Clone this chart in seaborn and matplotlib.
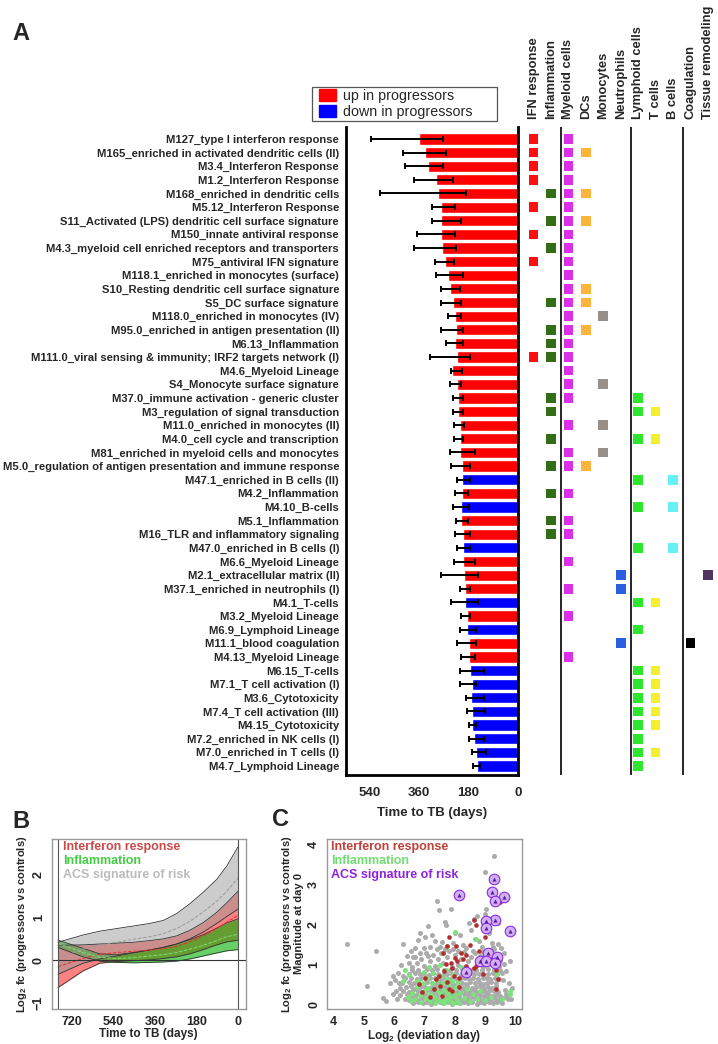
import matplotlib
matplotlib.use("Agg")
import matplotlib.pyplot as plt
from matplotlib.patches import Patch, Rectangle
from matplotlib.transforms import blended_transform_factory
import numpy as np
import pandas as pd
import seaborn as sns

# ---------------- panel A data ----------------
modules = [
    "M127_type I interferon response", "M165_enriched in activated dendritic cells (II)",
    "M3.4_Interferon Response", "M1.2_Interferon Response", "M168_enriched in dendritic cells",
    "M5.12_Interferon Response", "S11_Activated (LPS) dendritic cell surface signature",
    "M150_innate antiviral response", "M4.3_myeloid cell enriched receptors and transporters",
    "M75_antiviral IFN signature", "M118.1_enriched in monocytes (surface)",
    "S10_Resting dendritic cell surface signature", "S5_DC surface signature",
    "M118.0_enriched in monocytes (IV)", "M95.0_enriched in antigen presentation (II)",
    "M6.13_Inflammation", "M111.0_viral sensing & immunity; IRF2 targets network (I)",
    "M4.6_Myeloid Lineage", "S4_Monocyte surface signature",
    "M37.0_immune activation - generic cluster", "M3_regulation of signal transduction",
    "M11.0_enriched in monocytes (II)", "M4.0_cell cycle and transcription",
    "M81_enriched in myeloid cells and monocytes",
    "M5.0_regulation of antigen presentation and immune response",
    "M47.1_enriched in B cells (II)", "M4.2_Inflammation", "M4.10_B-cells", "M5.1_Inflammation",
    "M16_TLR and inflammatory signaling", "M47.0_enriched in B cells (I)", "M6.6_Myeloid Lineage",
    "M2.1_extracellular matrix (II)", "M37.1_enriched in neutrophils (I)", "M4.1_T-cells",
    "M3.2_Myeloid Lineage", "M6.9_Lymphoid Lineage", "M11.1_blood coagulation",
    "M4.13_Myeloid Lineage", "M6.15_T-cells", "M7.1_T cell activation (I)", "M3.6_Cytotoxicity",
    "M7.4_T cell activation (III)", "M4.15_Cytotoxicity", "M7.2_enriched in NK cells (I)",
    "M7.0_enriched in T cells (I)", "M4.7_Lymphoid Lineage",
]
bar_days = [361, 339, 327, 300, 292, 281, 281, 280, 277, 265, 256, 247, 236, 229, 226, 229,
            223, 240, 221, 219, 219, 213, 213, 210, 205, 205, 203, 207, 207, 202, 201, 199,
            195, 192, 192, 186, 185, 179, 179, 173, 166, 170, 166, 166, 160, 152, 148]
err_far = [534, 417, 411, 380, 501, 314, 314, 367, 380, 302, 300, 279, 279, 255, 280, 263,
           321, 245, 248, 236, 238, 234, 234, 248, 244, 222, 228, 237, 224, 228, 222, 234,
           281, 211, 244, 206, 213, 223, 206, 211, 211, 191, 185, 179, 179, 169, 164]
err_near = [272, 263, 272, 238, 189, 229, 207, 229, 226, 232, 201, 213, 206, 206, 199, 199,
            176, 203, 207, 199, 199, 196, 199, 155, 174, 173, 182, 179, 182, 173, 174, 158,
            145, 174, 145, 174, 152, 154, 158, 125, 152, 125, 121, 152, 125, 118, 137]
direction = ["up"] * 25 + ["down", "up", "down", "up", "up", "down", "up", "up", "up", "down",
                           "up", "down", "up", "up"] + ["down"] * 8

categories = ["IFN response", "Inflammation", "Myeloid cells", "DCs", "Monocytes", "Neutrophils",
              "Lymphoid cells", "T cells", "B cells", "Coagulation", "Tissue remodeling"]
category_colors = ["#FF1010", "#336E16", "#D930E8", "#FBB43C", "#989088", "#2A5FE0",
                   "#2EE62E", "#F4F030", "#66F2F2", "#000000", "#4E3660"]
module_categories = [
    [0, 2], [0, 2, 3], [0, 2], [0, 2], [1, 2, 3], [0, 2], [1, 2, 3], [0, 2], [1, 2], [0, 2],
    [2], [2, 3], [1, 2, 3], [2, 4], [1, 2, 3], [1, 2], [0, 1, 2], [2], [2, 4], [1, 2, 6],
    [1, 6, 7], [2, 4], [1, 6, 7], [2, 4], [1, 2, 3], [6, 8], [1, 2], [6, 8], [1, 2], [1, 2],
    [6, 8], [2], [5, 10], [2, 5], [6, 7], [2], [6], [5, 9], [2], [6, 7], [6, 7], [6, 7],
    [6, 7], [6, 7], [6], [6, 7], [6],
]

# ---------------- panel B data ----------------
days_b = [778, 670, 598, 526, 454, 382, 324, 266, 209, 151, 93, 50, 0]
acs_upper = [0.42, 0.59, 0.68, 0.74, 0.80, 0.86, 0.93, 1.09, 1.32, 1.59, 1.89, 2.20, 2.66]
acs_mid = [0.05, 0.26, 0.36, 0.42, 0.49, 0.55, 0.62, 0.74, 0.91, 1.13, 1.38, 1.61, 1.93]
acs_lower = [-0.33, -0.07, 0.03, 0.10, 0.17, 0.24, 0.30, 0.38, 0.50, 0.66, 0.86, 1.02, 1.20]
ifn_upper = [0.35, 0.36, 0.38, 0.40, 0.42, 0.46, 0.50, 0.57, 0.70, 0.88, 1.12, 1.34, 1.62]
ifn_mid = [-0.15, 0.04, 0.14, 0.18, 0.21, 0.24, 0.27, 0.33, 0.43, 0.57, 0.74, 0.89, 1.05]
ifn_lower = [-0.64, -0.25, -0.07, -0.03, -0.01, 0.01, 0.04, 0.08, 0.15, 0.25, 0.36, 0.43, 0.47]
inf_upper = [0.47, 0.28, 0.15, 0.13, 0.18, 0.24, 0.30, 0.38, 0.48, 0.60, 0.75, 0.87, 0.97]
inf_mid = [0.39, 0.18, 0.07, 0.04, 0.06, 0.10, 0.13, 0.18, 0.26, 0.35, 0.46, 0.55, 0.61]
inf_lower = [0.30, 0.08, -0.02, -0.05, -0.06, -0.05, -0.04, -0.02, 0.03, 0.10, 0.17, 0.22, 0.25]

# ---------------- panel C data ----------------
gray_pts = [
    (4.45, 1.52), (5.10, 0.47), (5.40, 1.33), (5.65, 0.18), (5.73, 0.10), (5.85, 0.55), (5.95, 0.72),
    (6.05, 0.35), (6.15, 0.55), (6.31, 1.51), (6.42, 1.21), (6.55, 1.35), (6.70, 1.20), (6.80, 1.62),
    (6.87, 1.78), (7.03, 1.70), (7.12, 1.97), (7.18, 1.45), (7.26, 1.74), (7.42, 2.60), (7.48, 2.37),
    (7.58, 1.56), (7.67, 2.07), (7.70, 2.00), (7.89, 2.38), (8.02, 1.80), (8.16, 1.74), (8.26, 1.50),
    (8.48, 2.03), (8.53, 1.87), (8.64, 2.15), (8.68, 1.64), (8.73, 2.22), (9.00, 3.32), (9.00, 2.27),
    (9.03, 2.40), (9.29, 3.71), (9.44, 2.05), (9.53, 1.42), (9.81, 1.09), (9.22, 1.55), (9.12, 1.80),
    (9.62, 1.30), (8.90, 1.45), (8.80, 1.60), (9.70, 0.85), (9.78, 0.55),
    (5.95, 0.28), (6.02, 0.62), (6.10, 0.15), (6.12, 0.80), (6.18, 0.42), (6.22, 1.00), (6.28, 0.72),
    (9.60, 0.62), (9.65, 0.38), (9.72, 0.20), (9.55, 0.80), (9.62, 1.02), (9.85, 0.15), (9.88, 0.42),
    (6.48, 1.05), (6.62, 1.18), (6.85, 1.30), (6.98, 1.42), (7.12, 1.22), (7.40, 1.38), (7.52, 1.45),
    (7.68, 1.38), (7.95, 1.40), (8.12, 1.35), (8.38, 1.42), (8.60, 1.35), (8.68, 1.28), (8.95, 1.32),
    (9.25, 1.45), (9.42, 1.52), (7.95, 1.55), (7.35, 1.60), (6.68, 1.42),
    (6.60, 0.95), (6.75, 1.05), (6.90, 1.15), (7.00, 0.97), (7.05, 1.30), (7.20, 1.10), (7.30, 1.25),
    (7.35, 0.98), (7.45, 1.15), (7.55, 1.30), (7.62, 1.05), (7.75, 1.20), (7.80, 1.35), (7.90, 0.95),
    (8.00, 1.25), (8.10, 1.00), (8.20, 1.15), (8.30, 1.32), (8.35, 0.95), (8.45, 1.10), (8.55, 1.20),
    (8.60, 0.90), (8.75, 1.05), (8.85, 1.22), (8.95, 0.95), (9.05, 1.15), (9.15, 1.30), (9.20, 1.02),
    (9.30, 1.38), (9.40, 1.25), (9.45, 0.96), (9.50, 1.10),
    (6.62, 0.05), (6.78, 0.08), (6.95, 0.04), (7.08, 0.07), (7.22, 0.03), (7.35, 0.06), (7.50, 0.08),
    (7.63, 0.04), (7.77, 0.06), (7.90, 0.03), (8.05, 0.07), (8.18, 0.05), (8.30, 0.08), (8.45, 0.04),
    (8.58, 0.06), (8.72, 0.03), (8.85, 0.07), (8.98, 0.05), (9.12, 0.08), (9.25, 0.04), (9.40, 0.06),
    (9.55, 0.05),
    (6.35, 0.15), (6.50, 0.12), (6.68, 0.16), (6.82, 0.13), (6.97, 0.17), (7.12, 0.14), (7.27, 0.12),
    (7.40, 0.16), (7.55, 0.13), (7.70, 0.17), (7.83, 0.14), (7.97, 0.12), (8.12, 0.16), (8.25, 0.13),
    (8.40, 0.15), (8.52, 0.12), (8.66, 0.17), (8.80, 0.14), (8.93, 0.12), (9.05, 0.16), (9.18, 0.13),
    (9.32, 0.15), (9.46, 0.12), (9.60, 0.16), (9.75, 0.14),
    (6.20, 0.24), (6.42, 0.26), (6.58, 0.22), (6.72, 0.25), (6.88, 0.23), (7.02, 0.27), (7.17, 0.24),
    (7.30, 0.22), (7.46, 0.26), (7.60, 0.24), (7.74, 0.27), (7.88, 0.23), (8.02, 0.25), (8.15, 0.22),
    (8.30, 0.26), (8.43, 0.24), (8.57, 0.22), (8.70, 0.27), (8.84, 0.25), (8.97, 0.23), (9.10, 0.26),
    (9.24, 0.22), (9.37, 0.25), (9.50, 0.23), (9.68, 0.26),
    (6.30, 0.35), (6.48, 0.33), (6.63, 0.36), (6.78, 0.34), (6.92, 0.32), (7.07, 0.36), (7.22, 0.34),
    (7.36, 0.33), (7.50, 0.37), (7.65, 0.34), (7.80, 0.32), (7.94, 0.35), (8.08, 0.33), (8.22, 0.36),
    (8.36, 0.34), (8.50, 0.32), (8.63, 0.36), (8.77, 0.33), (8.90, 0.35), (9.03, 0.32), (9.16, 0.36),
    (9.30, 0.34), (9.43, 0.33),
    (6.40, 0.44), (6.56, 0.46), (6.72, 0.43), (6.86, 0.45), (7.00, 0.47), (7.15, 0.43), (7.30, 0.45),
    (7.43, 0.42), (7.58, 0.46), (7.72, 0.44), (7.87, 0.43), (8.00, 0.47), (8.14, 0.44), (8.28, 0.42),
    (8.42, 0.46), (8.56, 0.43), (8.70, 0.45), (8.83, 0.47), (8.96, 0.43), (9.10, 0.45), (9.22, 0.42),
    (9.36, 0.46),
    (6.25, 0.55), (6.50, 0.57), (6.65, 0.54), (6.80, 0.56), (6.95, 0.53), (7.10, 0.57), (7.25, 0.55),
    (7.38, 0.53), (7.53, 0.57), (7.67, 0.54), (7.82, 0.56), (7.96, 0.53), (8.10, 0.57), (8.24, 0.55),
    (8.38, 0.53), (8.52, 0.56), (8.66, 0.54), (8.80, 0.57), (8.93, 0.53), (9.08, 0.55), (9.20, 0.57),
    (9.35, 0.54),
    (6.35, 0.66), (6.55, 0.68), (6.75, 0.65), (6.90, 0.67), (7.05, 0.64), (7.20, 0.68), (7.34, 0.66),
    (7.48, 0.64), (7.62, 0.67), (7.78, 0.65), (7.92, 0.68), (8.07, 0.64), (8.20, 0.66), (8.34, 0.68),
    (8.48, 0.65), (8.62, 0.67), (8.78, 0.64), (8.92, 0.66), (9.05, 0.68), (9.18, 0.65), (9.32, 0.67),
    (9.45, 0.64),
    (6.50, 0.77), (6.70, 0.79), (6.85, 0.76), (7.00, 0.78), (7.16, 0.75), (7.30, 0.79), (7.45, 0.77),
    (7.60, 0.75), (7.75, 0.78), (7.90, 0.76), (8.05, 0.79), (8.20, 0.75), (8.36, 0.77), (8.50, 0.79),
    (8.65, 0.76), (8.80, 0.78), (8.95, 0.75), (9.10, 0.77), (9.25, 0.79), (9.40, 0.76),
    (6.60, 0.88), (6.80, 0.86), (7.10, 0.89), (7.25, 0.87), (7.40, 0.90), (7.65, 0.86), (7.85, 0.88),
    (8.05, 0.87), (8.25, 0.89), (8.45, 0.86), (8.70, 0.88), (8.90, 0.87), (9.10, 0.89), (9.30, 0.86),
    (9.50, 0.88),
]
green_pts = [
    (6.45, 0.20), (6.55, 0.10), (6.60, 0.30), (6.70, 0.15), (6.75, 0.45), (6.85, 0.25), (6.90, 0.08),
    (6.95, 0.55), (7.00, 0.35), (7.05, 0.18), (7.10, 0.68), (7.12, 0.42), (7.18, 0.10), (7.20, 0.28),
    (7.25, 0.55), (7.30, 0.80), (7.32, 0.20), (7.38, 0.38), (7.40, 0.62), (7.45, 0.12), (7.48, 0.47),
    (7.52, 0.30), (7.55, 0.72), (7.58, 0.08), (7.60, 0.22), (7.63, 0.55), (7.66, 0.38), (7.70, 0.88),
    (7.72, 0.15), (7.75, 0.65), (7.78, 0.30), (7.80, 0.48), (7.83, 0.10), (7.86, 0.20), (7.90, 0.60),
    (7.93, 0.35), (7.96, 0.75), (8.00, 0.25), (8.05, 0.45), (8.08, 0.12), (8.12, 0.58), (8.18, 0.30),
    (8.22, 0.95), (8.30, 0.18), (8.40, 0.40), (8.50, 0.10), (8.60, 0.28), (8.72, 0.15), (8.85, 0.35),
    (9.00, 0.12), (9.20, 0.20), (9.40, 0.78), (9.55, 0.15), (9.81, 0.35), (9.81, 0.28), (6.37, 0.87),
    (7.62, 1.29), (7.73, 1.47), (8.00, 1.82), (8.70, 1.64), (9.37, 2.03), (6.30, 0.60), (6.50, 0.75),
    (7.15, 0.95), (7.50, 1.00), (7.35, 0.05), (7.65, 0.05), (7.95, 0.05), (8.15, 0.05), (6.80, 0.60),
    (7.00, 0.82),
]
red_pts = [
    (9.48, 2.56), (8.64, 2.11), (8.70, 1.99), (9.00, 1.70), (8.81, 1.33), (7.81, 1.70), (8.37, 1.25),
    (8.09, 1.09), (8.01, 1.17), (7.87, 1.05), (8.26, 1.13), (7.76, 1.46), (8.03, 1.46), (8.79, 1.17),
    (8.64, 0.93), (8.70, 0.96), (9.28, 1.13), (9.37, 0.88), (9.31, 1.17), (8.37, 0.97), (8.42, 0.88),
    (7.70, 1.01), (7.64, 0.84), (7.92, 0.93), (7.98, 0.72), (8.14, 0.68), (7.48, 0.72), (7.37, 0.64),
    (7.53, 0.47), (7.76, 0.56), (7.31, 0.39), (6.81, 0.52), (6.92, 0.31), (7.81, 0.39), (7.59, 0.23),
    (7.92, 0.35), (9.42, 0.64), (9.37, 0.39), (8.92, 0.76), (8.20, 1.29), (7.03, 0.68), (7.60, 1.30),
    (8.50, 1.50), (7.20, 0.20), (8.15, 0.45),
]
acs_pts = [
    (9.31, 3.13), (9.23, 2.82), (9.63, 2.70), (9.32, 2.59), (8.13, 2.75), (9.34, 2.12), (9.02, 2.10),
    (9.04, 1.91), (9.83, 1.84), (9.11, 1.28), (9.38, 1.19), (8.84, 1.10), (9.03, 1.10), (9.33, 1.05),
    (8.38, 0.81),
]

# ---------------- style ----------------
sns.set_style("white")
plt.rcParams["font.family"] = ["Liberation Sans", "DejaVu Sans"]
plt.rcParams["font.weight"] = "bold"
plt.rcParams["mathtext.fontset"] = "custom"
plt.rcParams["mathtext.rm"] = "Liberation Sans:bold"
plt.rcParams["mathtext.bf"] = "Liberation Sans:bold"
plt.rcParams["mathtext.default"] = "bf"

fig = plt.figure(figsize=(7.18, 10.44), dpi=100)

# ---------------- panel A: bars ----------------
n = len(modules)
ylim_a = (46.66, -0.88)
ax = fig.add_axes([0.4819, 0.2577, 0.2396, 0.6207])
df = pd.DataFrame({"module": modules, "days": bar_days, "direction": direction})
sns.barplot(data=df, x="days", y="module", hue="direction", orient="h", dodge=False,
            palette={"up": "#FF0000", "down": "#0000FF"}, saturation=1, width=0.82,
            errorbar=None, legend=False, ax=ax)
days_arr = np.array(bar_days)
ax.errorbar(days_arr, np.arange(n),
            xerr=[days_arr - np.array(err_near), np.array(err_far) - days_arr],
            fmt="none", ecolor="black", elinewidth=1.4, capsize=2.5, capthick=1.4)
ax.set_xlim(626, 0)
ax.set_ylim(*ylim_a)
ax.set_xticks([540, 360, 180, 0])
ax.set_ylabel("")
ax.set_xlabel("Time to TB (days)", fontsize=9.5, fontweight="bold", labelpad=6)
ax.tick_params(axis="y", direction="out", length=4, width=1.5, labelsize=8.1, pad=1)
ax.tick_params(axis="x", direction="out", length=5, width=1.5, labelsize=9.5)
for lab in ax.get_yticklabels() + ax.get_xticklabels():
    lab.set_fontweight("bold")
ax.spines["top"].set_visible(False)
for s in ["left", "bottom", "right"]:
    ax.spines[s].set_linewidth(2)
    ax.spines[s].set_color("black")

# ---------------- panel A: category matrix ----------------
axm = fig.add_axes([0.7242, 0.2577, 0.2758, 0.6207])
rows, cols = [], []
for i, cl in enumerate(module_categories):
    for c in cl:
        rows.append(i)
        cols.append(c)
cat_df = pd.DataFrame({"row": rows, "col": cols, "cat": [categories[c] for c in cols]})
sns.scatterplot(data=cat_df, x="col", y="row", hue="cat", hue_order=categories,
                palette=dict(zip(categories, category_colors)), marker="s", s=48,
                linewidth=0, legend=False, ax=axm)
axm.set_xlim(-0.787, 10.59)
axm.set_ylim(*ylim_a)
for xs in [1.57, 5.6, 8.58]:
    axm.axvline(xs, color="black", lw=1.2)
axm.axis("off")
tr = blended_transform_factory(axm.transData, axm.transAxes)
for i, name in enumerate(categories):
    axm.text(i, 1.012, name, transform=tr, rotation=90, ha="center", va="bottom",
             fontsize=9.3, fontweight="bold")

# legend of panel A, with its own frame box
fig.patches.append(Rectangle((312 / 718, 1 - 121 / 1044), 185 / 718, 34 / 1044,
                             transform=fig.transFigure, fill=False, edgecolor="#555555",
                             lw=0.9))
fig.legend(handles=[Patch(color="#FF0000"), Patch(color="#0000FF")],
           labels=["up in progressors", "down in progressors"],
           loc="upper left", bbox_to_anchor=(309 / 718, 1 - 79 / 1044),
           frameon=False, handlelength=1.2, handleheight=0.9, handletextpad=0.5,
           borderpad=0.2, labelspacing=0.12, prop={"weight": "normal", "size": 10.3})

# ---------------- panel B ----------------
axb = fig.add_axes([0.072, 0.0335, 0.2702, 0.1631])
axb.fill_between(days_b, ifn_lower, ifn_upper, color="#FF1A1A", alpha=0.55, lw=0)
axb.fill_between(days_b, inf_lower, inf_upper, color="#00B000", alpha=0.6, lw=0)
axb.fill_between(days_b, acs_lower, acs_upper, color="#9A9A9A", alpha=0.5, lw=0)
for band in [ifn_lower, ifn_upper, inf_lower, inf_upper, acs_lower, acs_upper]:
    axb.plot(days_b, band, color="#333333", lw=0.6)
axb.plot(days_b, acs_mid, color="#999999", lw=0.7, ls="--")
axb.plot(days_b, ifn_mid, color="#E03030", lw=0.7, ls="--")
axb.plot(days_b, inf_mid, color="#7CE07C", lw=0.7, ls="--")
axb.axhline(0, color="#333333", lw=0.8)
axb.axvline(days_b[0], color="#555555", lw=0.8)
axb.axvline(0, color="#555555", lw=0.8)
axb.set_xlim(805, -32)
axb.set_ylim(-1.14, 2.84)
axb.set_xticks([720, 540, 360, 180, 0])
axb.set_yticks([-1, 0, 1, 2])
axb.set_xlabel("Time to TB (days)", fontsize=8.5, fontweight="bold", labelpad=0)
axb.set_ylabel("Log$_2$ fc (progressors vs controls)", fontsize=8, fontweight="bold", labelpad=3)
axb.text(0.058, 0.952, "Interferon response", color="#CC4A4A", transform=axb.transAxes,
         fontsize=9, fontweight="bold", va="center")
axb.text(0.058, 0.871, "Inflammation", color="#44CC44", transform=axb.transAxes,
         fontsize=9, fontweight="bold", va="center")
axb.text(0.058, 0.790, "ACS signature of risk", color="#BBBBBB", transform=axb.transAxes,
         fontsize=9, fontweight="bold", va="center")

# ---------------- panel C ----------------
axc = fig.add_axes([0.4554, 0.0335, 0.2716, 0.1631])
gdf = pd.DataFrame(gray_pts, columns=["x", "y"])
sns.scatterplot(data=gdf, x="x", y="y", color="#ABABAB", s=13, linewidth=0, ax=axc)
grdf = pd.DataFrame(green_pts, columns=["x", "y"])
sns.scatterplot(data=grdf, x="x", y="y", color="#7CE27C", s=13, linewidth=0, ax=axc)
rdf = pd.DataFrame(red_pts, columns=["x", "y"])
sns.scatterplot(data=rdf, x="x", y="y", color="#B22E2E", s=11, linewidth=0, ax=axc)
adf = pd.DataFrame(acs_pts, columns=["x", "y"])
sns.scatterplot(data=adf, x="x", y="y", color="#D2B0F4", edgecolor="#8A2BE2", s=58,
                linewidth=0.8, ax=axc)
sns.scatterplot(data=adf, x="x", y="y", color="#5A1E9A", marker="^", s=9, linewidth=0, ax=axc)
axc.set_xlim(3.785, 10.22)
axc.set_ylim(-0.105, 4.14)
axc.set_xticks([4, 5, 6, 7, 8, 9, 10])
axc.set_yticks([0, 1, 2, 3, 4])
axc.set_xlabel("Log$_2$ (deviation day)", fontsize=8.5, fontweight="bold", labelpad=0)
axc.set_ylabel("Log$_2$ fc (progressors vs controls)\nMagnitude at day 0", fontsize=8,
               fontweight="bold", labelpad=3, linespacing=0.95)
axc.text(0.02, 0.952, "Interferon response", color="#C0403A", transform=axc.transAxes,
         fontsize=9, fontweight="bold", va="center")
axc.text(0.02, 0.871, "Inflammation", color="#70DD70", transform=axc.transAxes,
         fontsize=9, fontweight="bold", va="center")
axc.text(0.02, 0.790, "ACS signature of risk", color="#8B22E0", transform=axc.transAxes,
         fontsize=9, fontweight="bold", va="center")

for a in [axb, axc]:
    for s in a.spines.values():
        s.set_color("#999999")
        s.set_linewidth(1)
    a.tick_params(direction="out", length=4, width=1, color="#444444", labelsize=9, pad=1)
    for lab in a.get_xticklabels() + a.get_yticklabels():
        lab.set_fontweight("bold")
    for lab in a.get_yticklabels():
        lab.set_rotation(90)
        lab.set_va("center")

fig.text(12 / 718, 1 - 822 / 1044, "B", fontsize=17, fontweight="bold", va="center")
fig.text(272 / 718, 1 - 820 / 1044, "C", fontsize=17, fontweight="bold", va="center")
fig.text(12 / 718, 1 - 33 / 1044, "A", fontsize=17, fontweight="bold", va="center")

fig.savefig("out.png", dpi=100)
